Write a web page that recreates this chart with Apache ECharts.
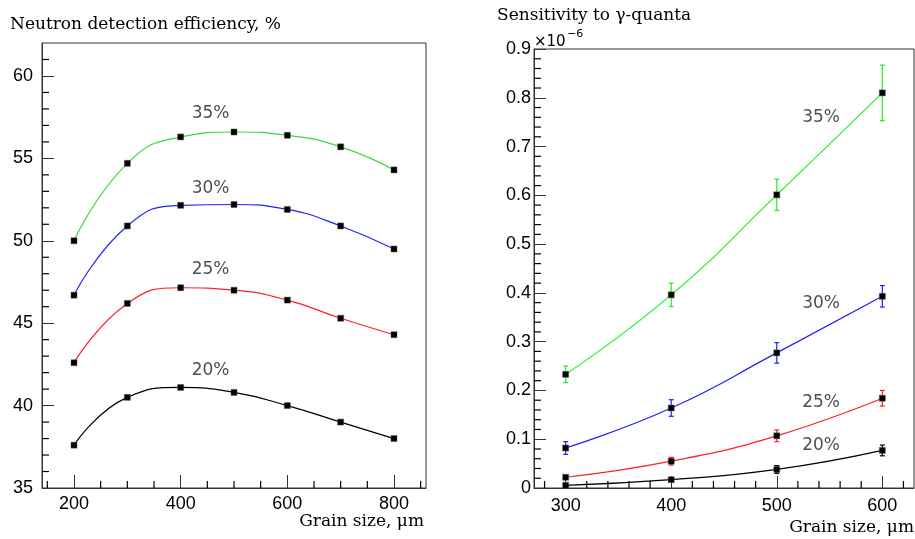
<!DOCTYPE html>
<html>
<head>
<meta charset="utf-8">
<script src="https://cdn.jsdelivr.net/npm/echarts@6/dist/echarts.min.js"></script>
<style>
  html, body { margin: 0; padding: 0; background: #fff; }
  #chart { width: 915px; height: 539px; }
</style>
</head>
<body>
<div id="chart"></div>
<script>
// left panel: neutron detection efficiency, %
const grainLeft = [200, 300, 400, 500, 600, 700, 800];
const eff20 = [37.6, 40.5, 41.1, 40.8, 40.0, 39.0, 38.0];
const eff25 = [42.6, 46.2, 47.15, 47.0, 46.4, 45.3, 44.3];
const eff30 = [46.7, 50.9, 52.15, 52.2, 51.9, 50.9, 49.5];
const eff35 = [50.0, 54.7, 56.3, 56.6, 56.4, 55.7, 54.3];

// right panel: sensitivity to gamma quanta, x10^-6
const grainRight = [300, 400, 500, 600];
const sens20 = [0.0055, 0.017, 0.038, 0.077];
const sens25 = [0.022, 0.055, 0.107, 0.184];
const sens30 = [0.082, 0.164, 0.277, 0.393];
const sens35 = [0.233, 0.396, 0.601, 0.81];
const err20 = [0.002, 0.003, 0.008, 0.011];
const err25 = [0.003, 0.008, 0.012, 0.016];
const err30 = [0.013, 0.017, 0.021, 0.022];
const err35 = [0.017, 0.024, 0.032, 0.057];

const curveNames = ["20%", "25%", "30%", "35%"];
// where the curve names sit, in data units
const leftLabelX = [456, 456, 456, 456];
const leftLabelY = [42.15, 48.25, 53.15, 57.7];
const rightLabelX = [542, 542, 542, 542];
const rightLabelY = [0.087, 0.176, 0.379, 0.76];

// tick values
const leftXLabels = [200, 400, 600, 800];
const leftXMinor = [150, 250, 300, 350, 450, 500, 550, 650, 700, 750, 850];
const leftYLabels = [35, 40, 45, 50, 55, 60];
const leftYMinor = [36, 37, 38, 39, 41, 42, 43, 44, 46, 47, 48, 49, 51, 52, 53, 54, 56, 57, 58, 59, 61];
const rightXLabels = [300, 400, 500, 600];
const rightXMinor = [280, 320, 340, 360, 380, 420, 440, 460, 480, 520, 540, 560, 580, 620];
const rightYLabels = [0, 0.1, 0.2, 0.3, 0.4, 0.5, 0.6, 0.7, 0.8, 0.9];
const rightYMinor = [
  0.02, 0.04, 0.06, 0.08, 0.12, 0.14, 0.16, 0.18, 0.22, 0.24, 0.26, 0.28,
  0.32, 0.34, 0.36, 0.38, 0.42, 0.44, 0.46, 0.48, 0.52, 0.54, 0.56, 0.58,
  0.62, 0.64, 0.66, 0.68, 0.72, 0.74, 0.76, 0.78, 0.82, 0.84, 0.86, 0.88,
];

const frameColor = "#333";
const leftColors = ["#000000", "#ff2020", "#2020ff", "#44d544"];
const rightColors = ["#000000", "#ff2020", "#2020ff", "#22ee22"];

const chart = echarts.init(document.getElementById("chart"));

function pairs(xs, ys) {
  return xs.map((x, i) => [x, ys[i]]);
}

function serifTitle(text, pos) {
  return Object.assign(
    {
      text,
      padding: 0,
      textStyle: {
        fontFamily: "DejaVu Serif",
        fontSize: 17,
        fontWeight: "normal",
        color: "#000",
      },
    },
    pos
  );
}

function valueAxis(gridIndex, min, max, ticks, position, tickLen, margin) {
  return {
    type: "value",
    gridIndex,
    min,
    max,
    position,
    splitLine: { show: false },
    axisLine: { show: true, lineStyle: { color: frameColor, width: 1 } },
    axisTick: {
      show: true,
      inside: true,
      length: tickLen,
      customValues: ticks,
      lineStyle: { color: frameColor, width: 1 },
    },
    axisLabel: {
      show: true,
      customValues: ticks,
      margin,
      color: "#000",
      fontFamily: "Liberation Sans",
      fontSize: 18,
    },
  };
}

// short ticks, drawn against the axis scales
function minorTicks(axisIndex, values, dim, edge) {
  return {
    type: "custom",
    xAxisIndex: axisIndex,
    yAxisIndex: axisIndex,
    data: values.map((v) => (dim === "x" ? [v, edge] : [edge, v])),
    silent: true,
    clip: false,
    z: 10,
    renderItem(params, api) {
      const p = api.coord([api.value(0), api.value(1)]);
      const len = 7;
      return {
        type: "group",
        children: [
          {
            type: "line",
            shape: {
              x1: p[0],
              y1: p[1],
              x2: dim === "x" ? p[0] : p[0] + len,
              y2: dim === "x" ? p[1] - len : p[1],
            },
            style: { stroke: "#000", lineWidth: 1.2 },
          },
        ],
      };
    },
  };
}

function curve(name, data, color, axisIndex) {
  return {
    name,
    type: "line",
    xAxisIndex: axisIndex,
    yAxisIndex: axisIndex,
    data,
    smooth: 0.5,
    symbol: "rect",
    symbolSize: 6,
    showAllSymbol: true,
    itemStyle: { color: "#000", borderColor: "#555", borderWidth: 0.5 },
    lineStyle: { color, width: 1.2 },
    z: 3,
    silent: true,
  };
}

function errorBars(xs, ys, errs, color) {
  return {
    type: "custom",
    xAxisIndex: 1,
    yAxisIndex: 1,
    data: xs.map((x, i) => [x, ys[i], errs[i]]),
    z: 2,
    silent: true,
    renderItem(params, api) {
      const x = api.value(0);
      const lo = api.coord([x, api.value(1) - api.value(2)]);
      const hi = api.coord([x, api.value(1) + api.value(2)]);
      const cap = 2.5;
      const style = { stroke: color, lineWidth: 1.2 };
      return {
        type: "group",
        children: [
          { type: "line", shape: { x1: lo[0], y1: lo[1], x2: hi[0], y2: hi[1] }, style },
          { type: "line", shape: { x1: lo[0] - cap, y1: lo[1], x2: lo[0] + cap, y2: lo[1] }, style },
          { type: "line", shape: { x1: hi[0] - cap, y1: hi[1], x2: hi[0] + cap, y2: hi[1] }, style },
        ],
      };
    },
  };
}

function curveLabels(xs, ys, axisIndex) {
  return {
    type: "scatter",
    xAxisIndex: axisIndex,
    yAxisIndex: axisIndex,
    symbolSize: 0,
    silent: true,
    z: 5,
    data: xs.map((x, i) => [x, ys[i], curveNames[i]]),
    label: {
      show: true,
      position: "inside",
      formatter: (p) => p.data[2],
      color: "#222",
      fontFamily: "DejaVu Sans",
      fontSize: 17,
    },
  };
}

chart.setOption({
  animation: false,
  title: [
    serifTitle("Neutron detection efficiency, %", { left: 10, top: 16 }),
    serifTitle("Sensitivity to γ-quanta", { left: 497, top: 7 }),
    serifTitle("Grain size, μm", { right: 491, top: 513 }),
    serifTitle("Grain size, μm", { right: 1, top: 519 }),
    {
      text: "×10",
      left: 534,
      top: 35,
      padding: 0,
      textStyle: { fontFamily: "DejaVu Sans", fontSize: 15, fontWeight: "normal", color: "#000" },
    },
    {
      text: "−6",
      left: 567,
      top: 29,
      padding: 0,
      textStyle: { fontFamily: "DejaVu Sans", fontSize: 11, fontWeight: "normal", color: "#000" },
    },
  ],
  grid: [
    { left: 42, top: 43, width: 384, height: 445, show: true, borderColor: frameColor, borderWidth: 1 },
    { left: 534, top: 49, width: 380, height: 439, show: true, borderColor: frameColor, borderWidth: 1 },
  ],
  xAxis: [
    valueAxis(0, 140, 860, leftXLabels, "bottom", 13, 7),
    valueAxis(1, 270, 630, rightXLabels, "bottom", 12, 9),
  ],
  yAxis: [
    valueAxis(0, 35, 62, leftYLabels, "left", 12, 9),
    valueAxis(1, 0, 0.9, rightYLabels, "left", 12, 3),
  ],
  series: [
    curve("20%", pairs(grainLeft, eff20), leftColors[0], 0),
    curve("25%", pairs(grainLeft, eff25), leftColors[1], 0),
    curve("30%", pairs(grainLeft, eff30), leftColors[2], 0),
    curve("35%", pairs(grainLeft, eff35), leftColors[3], 0),
    curveLabels(leftLabelX, leftLabelY, 0),

    errorBars(grainRight, sens20, err20, rightColors[0]),
    errorBars(grainRight, sens25, err25, rightColors[1]),
    errorBars(grainRight, sens30, err30, rightColors[2]),
    errorBars(grainRight, sens35, err35, rightColors[3]),
    curve("20%", pairs(grainRight, sens20), rightColors[0], 1),
    curve("25%", pairs(grainRight, sens25), rightColors[1], 1),
    curve("30%", pairs(grainRight, sens30), rightColors[2], 1),
    curve("35%", pairs(grainRight, sens35), rightColors[3], 1),
    curveLabels(rightLabelX, rightLabelY, 1),

    minorTicks(0, leftXMinor, "x", 35),
    minorTicks(0, leftYMinor, "y", 140),
    minorTicks(1, rightXMinor, "x", 0),
    minorTicks(1, rightYMinor, "y", 270),
  ],
});
</script>
</body>
</html>
